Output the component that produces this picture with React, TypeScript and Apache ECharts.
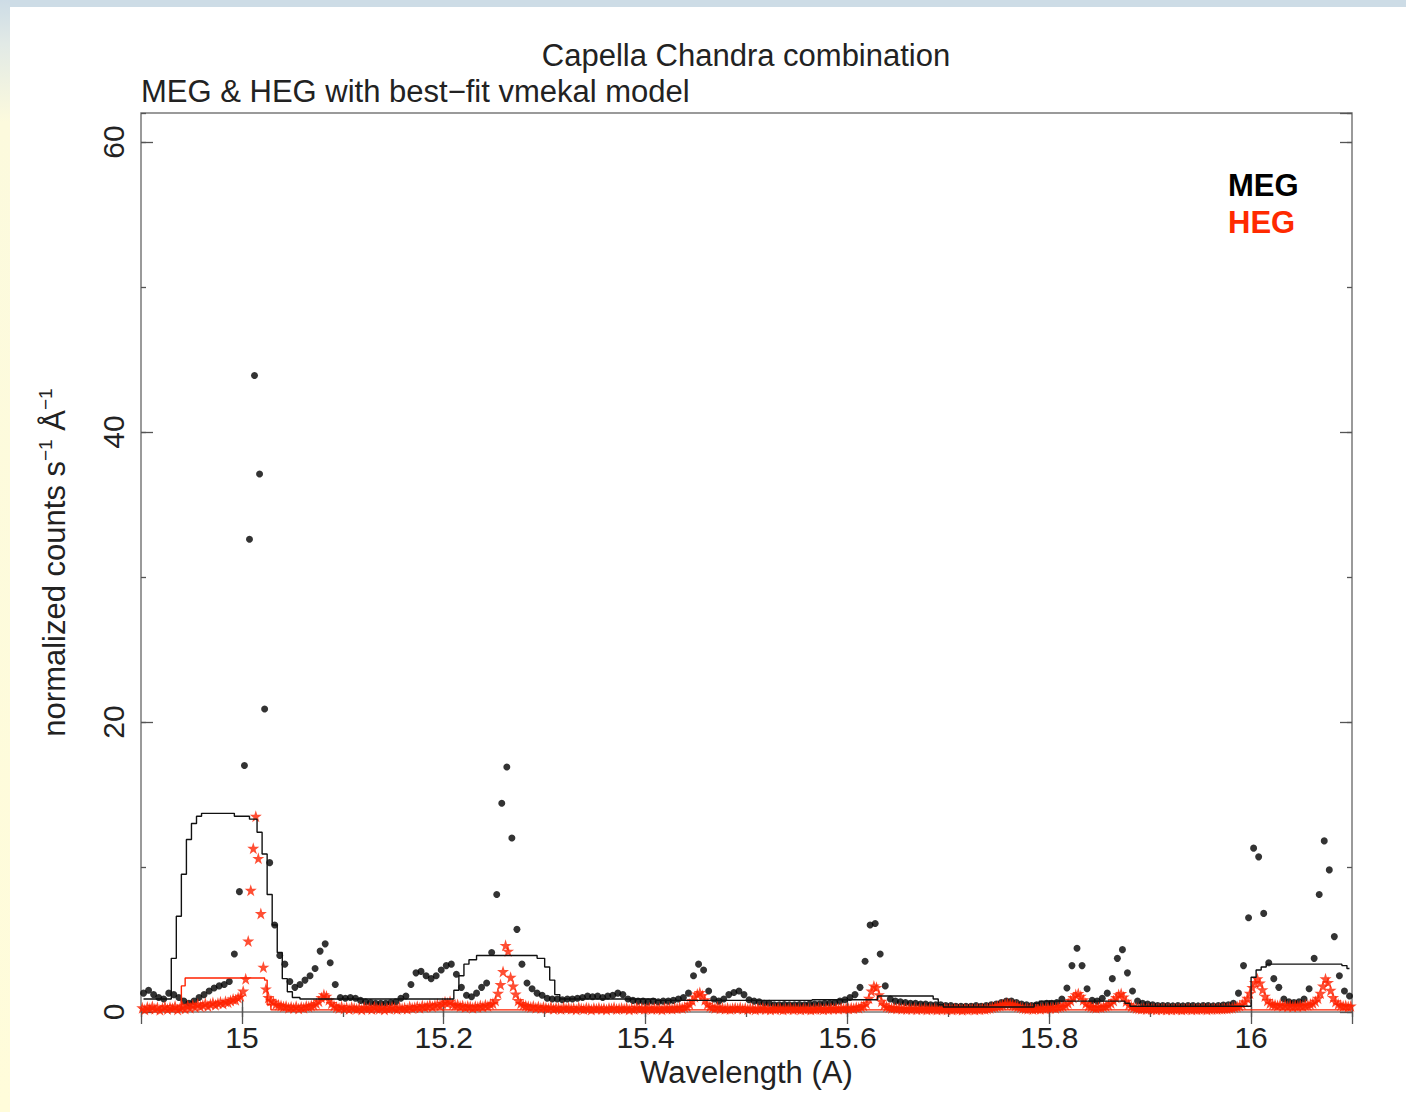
import React, { useEffect, useRef } from 'react';
import * as echarts from 'echarts';

// ---- axes ----
const X_MIN = 14.9;
const X_MAX = 16.1;
const Y_MIN = 0;
const Y_MAX = 62;
const Y_TICK_LABELS = [0, 20, 40, 60];

// ---- MEG data (bin centres start + i*step, counts) ----
const MEG_START = 14.9025;
const MEG_STEP = 0.005;
const MEG_COUNTS = [
  1.3, 1.5, 1.2, 1.0, 0.9, 1.3, 1.2, 1.0, 0.75, 0.6,
  0.75, 1.0, 1.2, 1.45, 1.65, 1.8, 1.9, 2.1, 4.0, 8.3,
  17.0, 32.6, 43.9, 37.1, 20.9, 10.3, 6.0, 3.9, 3.3, 2.1,
  1.7, 1.9, 2.2, 2.5, 3.0, 4.2, 4.7, 3.4, 1.9, 1.0,
  0.95, 1.0, 0.95, 0.8, 0.7, 0.65, 0.6, 0.6, 0.6, 0.65,
  0.7, 0.95, 1.1, 1.9, 2.7, 2.8, 2.5, 2.3, 2.5, 2.9,
  3.2, 3.3, 2.6, 1.7, 1.15, 1.05, 1.3, 1.7, 2.0, 4.1,
  8.1, 14.4, 16.9, 12.0, 5.7, 3.3, 2.0, 1.6, 1.3, 1.15,
  0.95, 0.9, 0.9, 0.85, 0.9, 0.9, 0.95, 1.0, 1.1, 1.05,
  1.1, 1.0, 1.1, 1.15, 1.3, 1.2, 0.9, 0.8, 0.75, 0.75,
  0.7, 0.75, 0.7, 0.75, 0.75, 0.8, 0.9, 1.0, 1.3, 2.5,
  3.3, 2.9, 1.45, 0.9, 0.75, 0.9, 1.2, 1.35, 1.45, 1.2,
  0.85, 0.75, 0.7, 0.6, 0.6, 0.5, 0.5, 0.52, 0.5, 0.5,
  0.52, 0.5, 0.55, 0.55, 0.55, 0.6, 0.6, 0.65, 0.75, 0.85,
  1.0, 1.2, 1.7, 3.5, 6.0, 6.1, 4.0, 1.8, 0.9, 0.75,
  0.7, 0.65, 0.6, 0.6, 0.55, 0.55, 0.5, 0.5, 0.5, 0.45,
  0.45, 0.4, 0.4, 0.4, 0.4, 0.45, 0.4, 0.45, 0.5, 0.55,
  0.65, 0.75, 0.75, 0.65, 0.55, 0.5, 0.45, 0.5, 0.55, 0.6,
  0.6, 0.65, 0.9, 1.65, 3.2, 4.4, 3.2, 1.6, 0.8, 0.75,
  0.95, 1.3, 2.3, 3.7, 4.3, 2.7, 1.45, 0.75, 0.6, 0.55,
  0.5, 0.45, 0.45, 0.45, 0.42, 0.45, 0.42, 0.45, 0.45, 0.42,
  0.45, 0.45, 0.42, 0.45, 0.48, 0.5, 0.6, 1.3, 3.2, 6.5,
  11.3, 10.7, 6.8, 3.4, 2.3, 1.7, 0.9, 0.7, 0.65, 0.7,
  0.9, 1.6, 3.7, 8.1, 11.8, 9.8, 5.2, 2.5, 1.45, 1.1,
];

// ---- HEG data ----
const HEG_START = 14.90125;
const HEG_STEP = 0.0025;
const HEG_COUNTS = [
  0.30, 0.18, 0.35, 0.25, 0.40, 0.22, 0.32, 0.15, 0.28, 0.38,
  0.20, 0.33, 0.26, 0.42, 0.18, 0.30, 0.36, 0.24, 0.45, 0.30,
  0.50, 0.35, 0.55, 0.40, 0.48, 0.60, 0.42, 0.55, 0.65, 0.50,
  0.62, 0.70, 0.58, 0.75, 0.68, 0.80, 0.90, 0.85, 1.00, 1.10,
  1.45, 2.30, 4.90, 8.40, 11.30, 13.50, 10.60, 6.80, 3.10, 1.60,
  1.00, 0.80, 0.70, 0.55, 0.50, 0.45, 0.38, 0.42, 0.30, 0.36,
  0.28, 0.40, 0.25, 0.35, 0.30, 0.42, 0.38, 0.45, 0.50, 0.60,
  0.75, 1.00, 1.20, 1.10, 0.85, 0.60, 0.45, 0.35, 0.28, 0.38,
  0.25, 0.32, 0.20, 0.35, 0.28, 0.22, 0.30, 0.18, 0.33, 0.25,
  0.30, 0.20, 0.36, 0.26, 0.22, 0.32, 0.18, 0.28, 0.24, 0.35,
  0.27, 0.20, 0.34, 0.25, 0.30, 0.22, 0.38, 0.28, 0.33, 0.40,
  0.30, 0.45, 0.35, 0.42, 0.50, 0.38, 0.48, 0.55, 0.45, 0.60,
  0.70, 0.62, 0.75, 0.55, 0.48, 0.52, 0.40, 0.45, 0.35, 0.42,
  0.38, 0.30, 0.40, 0.35, 0.45, 0.38, 0.50, 0.42, 0.55, 0.60,
  0.80, 1.30, 1.90, 2.80, 4.60, 4.20, 2.40, 1.80, 1.25, 0.80,
  0.60, 0.50, 0.45, 0.40, 0.35, 0.42, 0.30, 0.38, 0.28, 0.35,
  0.30, 0.25, 0.36, 0.22, 0.30, 0.27, 0.20, 0.33, 0.25, 0.30,
  0.22, 0.28, 0.18, 0.32, 0.24, 0.20, 0.30, 0.26, 0.17, 0.28,
  0.22, 0.30, 0.20, 0.26, 0.18, 0.28, 0.24, 0.32, 0.20, 0.25,
  0.28, 0.22, 0.30, 0.18, 0.26, 0.20, 0.32, 0.24, 0.27, 0.22,
  0.25, 0.30, 0.20, 0.28, 0.22, 0.26, 0.18, 0.30, 0.24, 0.28,
  0.22, 0.30, 0.26, 0.32, 0.28, 0.35, 0.40, 0.55, 0.80, 1.05,
  1.25, 1.35, 1.15, 0.85, 0.55, 0.40, 0.32, 0.28, 0.35, 0.25,
  0.30, 0.22, 0.28, 0.20, 0.26, 0.30, 0.24, 0.32, 0.22, 0.27,
  0.20, 0.28, 0.24, 0.18, 0.26, 0.22, 0.30, 0.20, 0.25, 0.18,
  0.24, 0.20, 0.28, 0.22, 0.17, 0.25, 0.21, 0.27, 0.19, 0.24,
  0.22, 0.18, 0.26, 0.20, 0.24, 0.17, 0.23, 0.20, 0.27, 0.22,
  0.19, 0.25, 0.21, 0.28, 0.23, 0.26, 0.22, 0.30, 0.25, 0.28,
  0.24, 0.30, 0.26, 0.33, 0.30, 0.38, 0.45, 0.60, 0.95, 1.45,
  1.80, 1.70, 1.20, 0.75, 0.50, 0.38, 0.32, 0.28, 0.30, 0.25,
  0.28, 0.22, 0.26, 0.20, 0.25, 0.21, 0.27, 0.19, 0.24, 0.20,
  0.26, 0.18, 0.23, 0.20, 0.25, 0.17, 0.22, 0.19, 0.24, 0.18,
  0.22, 0.17, 0.24, 0.19, 0.21, 0.16, 0.23, 0.18, 0.20, 0.22,
  0.17, 0.23, 0.19, 0.25, 0.20, 0.24, 0.28, 0.32, 0.36, 0.42,
  0.45, 0.50, 0.55, 0.58, 0.55, 0.50, 0.45, 0.38, 0.32, 0.28,
  0.25, 0.22, 0.27, 0.20, 0.24, 0.26, 0.22, 0.28, 0.25, 0.30,
  0.27, 0.32, 0.28, 0.35, 0.38, 0.42, 0.50, 0.62, 0.80, 1.00,
  1.20, 1.28, 1.10, 0.85, 0.60, 0.45, 0.38, 0.32, 0.30, 0.35,
  0.32, 0.38, 0.42, 0.50, 0.62, 0.80, 1.00, 1.20, 1.28, 1.05,
  0.75, 0.52, 0.40, 0.32, 0.28, 0.25, 0.22, 0.26, 0.20, 0.24,
  0.20, 0.23, 0.18, 0.22, 0.19, 0.24, 0.17, 0.21, 0.18, 0.23,
  0.19, 0.22, 0.17, 0.21, 0.20, 0.24, 0.18, 0.22, 0.19, 0.23,
  0.20, 0.24, 0.18, 0.22, 0.21, 0.25, 0.20, 0.24, 0.22, 0.26,
  0.24, 0.28, 0.30, 0.34, 0.38, 0.45, 0.55, 0.72, 0.95, 1.30,
  1.70, 2.05, 2.30, 2.00, 1.55, 1.10, 0.80, 0.62, 0.55, 0.50,
  0.45, 0.52, 0.42, 0.48, 0.40, 0.46, 0.38, 0.44, 0.40, 0.47,
  0.42, 0.50, 0.48, 0.55, 0.62, 0.75, 0.95, 1.30, 1.80, 2.30,
  2.05, 1.50, 1.00, 0.72, 0.55, 0.48, 0.42, 0.45, 0.38, 0.42,
];

// ---- best-fit vmekal model curves ----
const MEG_MODEL_WAVE = [
  14.9025, 14.9275, 14.9325, 14.9375, 14.9425, 14.9475, 14.9525, 14.9575, 14.9625, 14.9825,
  15.0025, 15.0125, 15.0175, 15.0225, 15.0275, 15.0325, 15.0375, 15.0425, 15.0475, 15.0525,
  15.0625, 15.2075, 15.2125, 15.2175, 15.2225, 15.2275, 15.2375, 15.2875, 15.2975, 15.3025,
  15.3075, 15.3125, 15.3175, 15.5025, 15.6275, 15.6325, 15.6825, 15.6875, 15.6925, 15.6975,
  15.7825, 15.7875, 15.7925, 15.8725, 15.8775, 15.8825, 15.9975, 16.0025, 16.0075, 16.0125,
  16.0175, 16.0875, 16.0925, 16.0975,
];
const MEG_MODEL_FLUX = [
  0.9, 0.9, 3.7, 6.6, 9.5, 11.9, 13.0, 13.5, 13.7, 13.7,
  13.5, 13.3, 12.4, 10.9, 8.1, 6.0, 4.1, 2.3, 1.4, 1.0,
  0.9, 0.9, 1.5, 2.5, 3.3, 3.6, 3.9, 3.9, 3.7, 3.1,
  2.2, 1.2, 0.9, 0.8, 0.85, 1.1, 1.1, 0.9, 0.5, 0.35,
  0.35, 0.6, 0.75, 0.75, 0.6, 0.4, 0.4, 2.4, 2.9, 3.1,
  3.3, 3.3, 3.2, 3.0,
];
const HEG_MODEL_WAVE = [14.90125, 14.93875, 14.94125, 14.94625, 15.02125, 15.02375, 15.02625, 15.03125, 16.09875];
const HEG_MODEL_FLUX = [0.15, 0.15, 1.8, 2.35, 2.35, 2.2, 0.5, 0.15, 0.15];

const FONT = '"Liberation Sans", Arial, Helvetica, sans-serif';
const TEXT_COLOR = '#222';
const RED = '#ff2200';
const STAR = 'path://M50,0 L61,35 L98,35 L68,57 L79,91 L50,70 L21,91 L32,57 L2,35 L39,35 Z';

export default function App() {
  const ref = useRef<HTMLDivElement>(null);

  useEffect(() => {
    if (!ref.current) return;
    const chart = echarts.init(ref.current, null, { renderer: 'svg' });

    const megData = MEG_COUNTS.map((v, i) => [MEG_START + i * MEG_STEP, v]);
    const hegData = HEG_COUNTS.map((v, i) => [HEG_START + i * HEG_STEP, v]);
    const megModel = MEG_MODEL_WAVE.map((w, i) => [w, MEG_MODEL_FLUX[i]]);
    const hegModel = HEG_MODEL_WAVE.map((w, i) => [w, HEG_MODEL_FLUX[i]]);

    const tickColor = '#555';
    const baseX = {
      type: 'value',
      min: X_MIN,
      max: X_MAX,
      gridIndex: 0,
      axisLine: { show: false },
      splitLine: { show: false },
    };
    const baseY = {
      type: 'value',
      min: Y_MIN,
      max: Y_MAX,
      gridIndex: 0,
      axisLine: { show: false },
      splitLine: { show: false },
    };

    chart.setOption({
      animation: false,
      backgroundColor: '#ffffff',
      textStyle: { fontFamily: FONT },
      graphic: [
        {
          type: 'rect',
          z: 0,
          shape: { x: 0, y: 0, width: 1406, height: 7 },
          style: { fill: '#cddce6' },
          silent: true,
        },
        {
          type: 'rect',
          z: 0,
          shape: { x: 0, y: 0, width: 10, height: 1112 },
          style: {
            fill: new echarts.graphic.LinearGradient(0, 0, 0, 1, [
              { offset: 0, color: '#cddce6' },
              { offset: 0.04, color: '#e2eae6' },
              { offset: 0.11, color: '#fcfadd' },
              { offset: 1, color: '#fffcda' },
            ]),
          },
          silent: true,
        },
        {
          type: 'text',
          x: 746,
          y: 55,
          style: {
            text: 'Capella Chandra combination',
            fontSize: 31,
            fontFamily: FONT,
            fill: TEXT_COLOR,
            align: 'center',
            verticalAlign: 'middle',
          },
        },
        {
          type: 'text',
          x: 141,
          y: 91,
          style: {
            text: 'MEG & HEG with best\u2212fit vmekal model',
            fontSize: 31,
            fontFamily: FONT,
            fill: TEXT_COLOR,
            align: 'left',
            verticalAlign: 'middle',
          },
        },
      ],
      legend: {
        orient: 'vertical',
        left: 1218,
        top: 165,
        itemGap: 6,
        icon: 'none',
        itemWidth: 0,
        itemHeight: 0,
        selectedMode: false,
        textStyle: { fontSize: 31, fontWeight: 'bold', fontFamily: FONT },
        data: [
          { name: 'MEG', textStyle: { color: '#000000' } },
          { name: 'HEG', textStyle: { color: '#ff2a00' } },
        ],
      },
      grid: {
        left: 141,
        right: 54,
        top: 113,
        bottom: 100,
        show: true,
        borderColor: '#7a7a7a',
        borderWidth: 1.5,
        backgroundColor: 'transparent',
      },
      xAxis: [
        {
          ...baseX,
          position: 'bottom',
          splitNumber: 6,
          axisTick: { inside: true, length: 12, lineStyle: { color: tickColor, width: 1.3 } },
          axisLabel: {
            fontSize: 30,
            color: TEXT_COLOR,
            fontFamily: FONT,
            margin: 10,
            showMinLabel: false,
            showMaxLabel: false,
            formatter: (v: number) => (v > X_MIN + 1e-9 && v < X_MAX - 1e-9 ? String(v) : ''),
          },
          name: 'Wavelength (A)',
          nameLocation: 'middle',
          nameGap: 44,
          nameTextStyle: { fontSize: 31, color: TEXT_COLOR, fontFamily: FONT },
        },
        {
          ...baseX,
          position: 'bottom',
          interval: 0.1,
          axisTick: { inside: true, length: 5, lineStyle: { color: tickColor, width: 1.3 } },
          axisLabel: { show: false },
        },
        {
          ...baseX,
          position: 'top',
          splitNumber: 6,
          axisTick: { inside: true, length: 12, lineStyle: { color: tickColor, width: 1.3 } },
          axisLabel: { show: false },
        },
        {
          ...baseX,
          position: 'top',
          interval: 0.1,
          axisTick: { inside: true, length: 5, lineStyle: { color: tickColor, width: 1.3 } },
          axisLabel: { show: false },
        },
      ],
      yAxis: [
        {
          ...baseY,
          position: 'left',
          interval: 20,
          axisTick: { inside: true, length: 12, lineStyle: { color: tickColor, width: 1.3 } },
          axisLabel: {
            rotate: 90,
            fontSize: 30,
            color: TEXT_COLOR,
            fontFamily: FONT,
            margin: 13,
            showMaxLabel: false,
            formatter: (v: number) => (Y_TICK_LABELS.includes(v) ? String(v) : ''),
          },
          name: 'normalized counts s{sup|\u22121} \u00c5{sup|\u22121}',
          nameLocation: 'middle',
          nameRotate: 90,
          nameGap: 69,
          nameTextStyle: {
            fontSize: 31,
            color: TEXT_COLOR,
            fontFamily: FONT,
            lineHeight: 36,
            rich: {
              sup: { fontSize: 19, lineHeight: 19, verticalAlign: 'top', color: TEXT_COLOR, fontFamily: FONT },
            },
          },
        },
        {
          ...baseY,
          position: 'left',
          interval: 10,
          axisTick: { inside: true, length: 5, lineStyle: { color: tickColor, width: 1.3 } },
          axisLabel: { show: false },
        },
        {
          ...baseY,
          position: 'right',
          interval: 20,
          axisTick: { inside: true, length: 12, lineStyle: { color: tickColor, width: 1.3 } },
          axisLabel: { show: false },
        },
        {
          ...baseY,
          position: 'right',
          interval: 10,
          axisTick: { inside: true, length: 5, lineStyle: { color: tickColor, width: 1.3 } },
          axisLabel: { show: false },
        },
      ],
      series: [
        {
          name: 'MEG',
          type: 'scatter',
          xAxisIndex: 0,
          yAxisIndex: 0,
          data: megData,
          symbol: 'circle',
          symbolSize: 7,
          itemStyle: { color: '#000000' },
          clip: false,
          z: 2,
        },
        {
          name: 'HEG',
          type: 'scatter',
          xAxisIndex: 0,
          yAxisIndex: 0,
          data: hegData,
          symbol: STAR,
          symbolSize: 12,
          itemStyle: { color: RED },
          clip: false,
          z: 3,
        },
        {
          name: 'MEG model',
          type: 'line',
          xAxisIndex: 0,
          yAxisIndex: 0,
          data: megModel,
          step: 'middle',
          showSymbol: false,
          symbol: 'none',
          lineStyle: { color: '#111111', width: 1.4 },
          z: 4,
        },
        {
          name: 'HEG model',
          type: 'line',
          xAxisIndex: 0,
          yAxisIndex: 0,
          data: hegModel,
          step: 'middle',
          showSymbol: false,
          symbol: 'none',
          lineStyle: { color: RED, width: 1.4 },
          z: 4,
        },
      ],
    });

    return () => {
      chart.dispose();
    };
  }, []);

  return (
    <div
      ref={ref}
      style={{ position: 'absolute', left: 0, top: 0, width: 1406, height: 1112 }}
    />
  );
}
